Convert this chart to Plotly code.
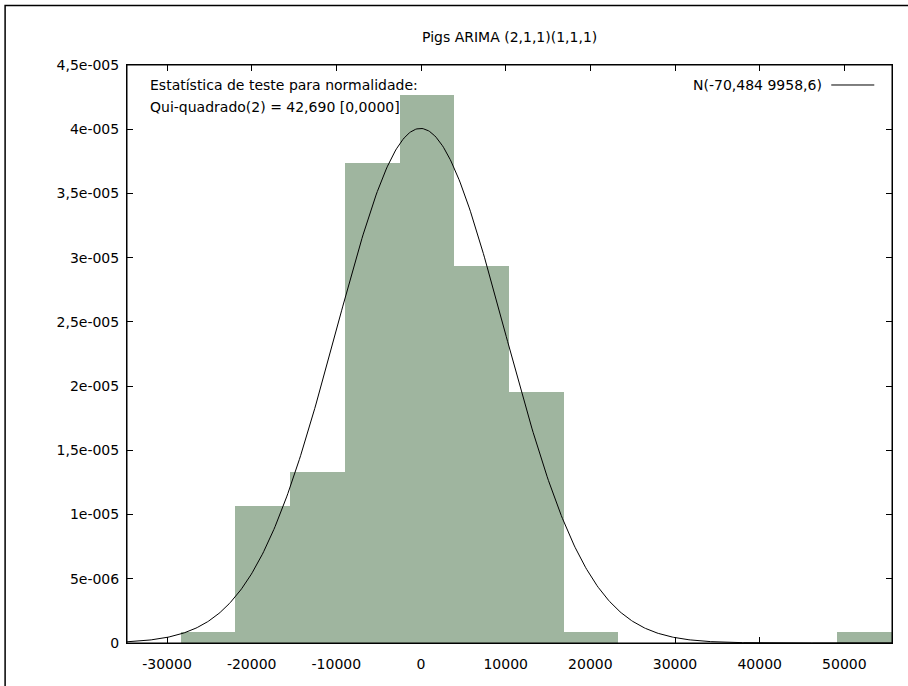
import numpy as np
import plotly.graph_objects as go

# ---- data ----
bin_centers = [-25149, -18687, -12224, -5762, 700, 7162, 13624, 20087,
               26549, 33011, 39473, 45935, 52397]
bin_width = 6462
densities = [8.8e-7, 1.068e-5, 1.333e-5, 3.735e-5, 4.267e-5, 2.936e-5,
             1.956e-5, 8.8e-7, 0, 0, 0, 0, 8.8e-7]

normal_mean = -70.484
normal_sd = 9958.6

x_tickvals = [-30000, -20000, -10000, 0, 10000, 20000, 30000, 40000, 50000]
x_ticktext = ["-30000", "-20000", "-10000", "0", "10000", "20000", "30000", "40000", "50000"]
y_tickvals = [0, 5e-6, 1e-5, 1.5e-5, 2e-5, 2.5e-5, 3e-5, 3.5e-5, 4e-5, 4.5e-5]
y_ticktext = ["0", "5e-006", "1e-005", "1,5e-005", "2e-005", "2,5e-005",
              "3e-005", "3,5e-005", "4e-005", "4,5e-005"]

title_text = "Pigs ARIMA (2,1,1)(1,1,1)"
stat_line1 = "Estatística de teste para normalidade:"
stat_line2 = "Qui-quadrado(2) = 42,690 [0,0000]"
legend_text = "N(-70,484 9958,6)"

x_range = [-34730, 55630]
y_range = [0, 4.5e-5]

FONT = "DejaVu Sans"
FS = 14

# ---- figure ----
fig = go.Figure()
fig.add_trace(go.Bar(
    x=bin_centers, y=densities, width=bin_width,
    marker=dict(color="#9fb59f", line=dict(width=0)),
    showlegend=False, hoverinfo="skip"))

xs = np.linspace(x_range[0], x_range[1], 600)
ys = np.exp(-0.5 * ((xs - normal_mean) / normal_sd) ** 2) / (normal_sd * np.sqrt(2 * np.pi))
fig.add_trace(go.Scatter(x=xs, y=ys, mode="lines",
                         line=dict(color="black", width=1), showlegend=False,
                         hoverinfo="skip"))

L, R, T, B = 127.3, 16.3, 65.0, 42.7
W, H = 908, 686
pw = W - L - R
ph = H - T - B

def px2paper_x(px):
    return (px - L) / pw

def px2paper_y(py):
    return (H - B - py) / ph

axis_common = dict(showgrid=False, zeroline=False, ticks="inside", ticklen=6,
                   tickcolor="black", tickwidth=1, showline=True, linecolor="black",
                   linewidth=1, mirror="ticks", layer="below traces",
                   tickfont=dict(family=FONT, size=FS, color="black"))

fig.update_xaxes(range=x_range, tickmode="array", tickvals=x_tickvals,
                 ticktext=x_ticktext, ticklabelstandoff=8, **axis_common)
fig.update_yaxes(range=y_range, tickmode="array", tickvals=y_tickvals,
                 ticktext=y_ticktext, ticklabelstandoff=4, **axis_common)

shapes = [
    # plot frame above traces
    dict(type="rect", xref="paper", yref="paper", x0=0, y0=0, x1=1, y1=1,
         line=dict(color="black", width=1), layer="above"),
    # outer border of picture
    dict(type="rect", xref="paper", yref="paper",
         x0=px2paper_x(5.5), y0=px2paper_y(700), x1=px2paper_x(930), y1=px2paper_y(5.5),
         line=dict(color="black", width=1.5), layer="above"),
    # legend line sample
    dict(type="line", xref="paper", yref="paper",
         x0=px2paper_x(831), x1=px2paper_x(874), y0=px2paper_y(85), y1=px2paper_y(85),
         line=dict(color="black", width=1)),
]

annotations = [
    dict(text=title_text, xref="paper", yref="paper", x=0.5, y=px2paper_y(37),
         xanchor="center", yanchor="middle", showarrow=False,
         font=dict(family=FONT, size=FS, color="black")),
    dict(text=stat_line1, xref="paper", yref="paper", x=px2paper_x(148), y=px2paper_y(85),
         xanchor="left", yanchor="middle", showarrow=False,
         font=dict(family=FONT, size=FS, color="black")),
    dict(text=stat_line2, xref="paper", yref="paper", x=px2paper_x(148), y=px2paper_y(107),
         xanchor="left", yanchor="middle", showarrow=False,
         font=dict(family=FONT, size=FS, color="black")),
    dict(text=legend_text, xref="paper", yref="paper", x=px2paper_x(824), y=px2paper_y(85),
         xanchor="right", yanchor="middle", showarrow=False,
         font=dict(family=FONT, size=FS, color="black")),
]

fig.update_layout(
    width=W, height=H,
    margin=dict(l=L, r=R, t=T, b=B, pad=0),
    paper_bgcolor="white", plot_bgcolor="white",
    bargap=0, showlegend=False,
    shapes=shapes, annotations=annotations,
    font=dict(family=FONT, size=FS, color="black"),
)

fig.write_html("out.html",
               config={"displayModeBar": False, "staticPlot": True},
               post_script="document.body.style.margin='0px';document.body.style.overflow='hidden';")
